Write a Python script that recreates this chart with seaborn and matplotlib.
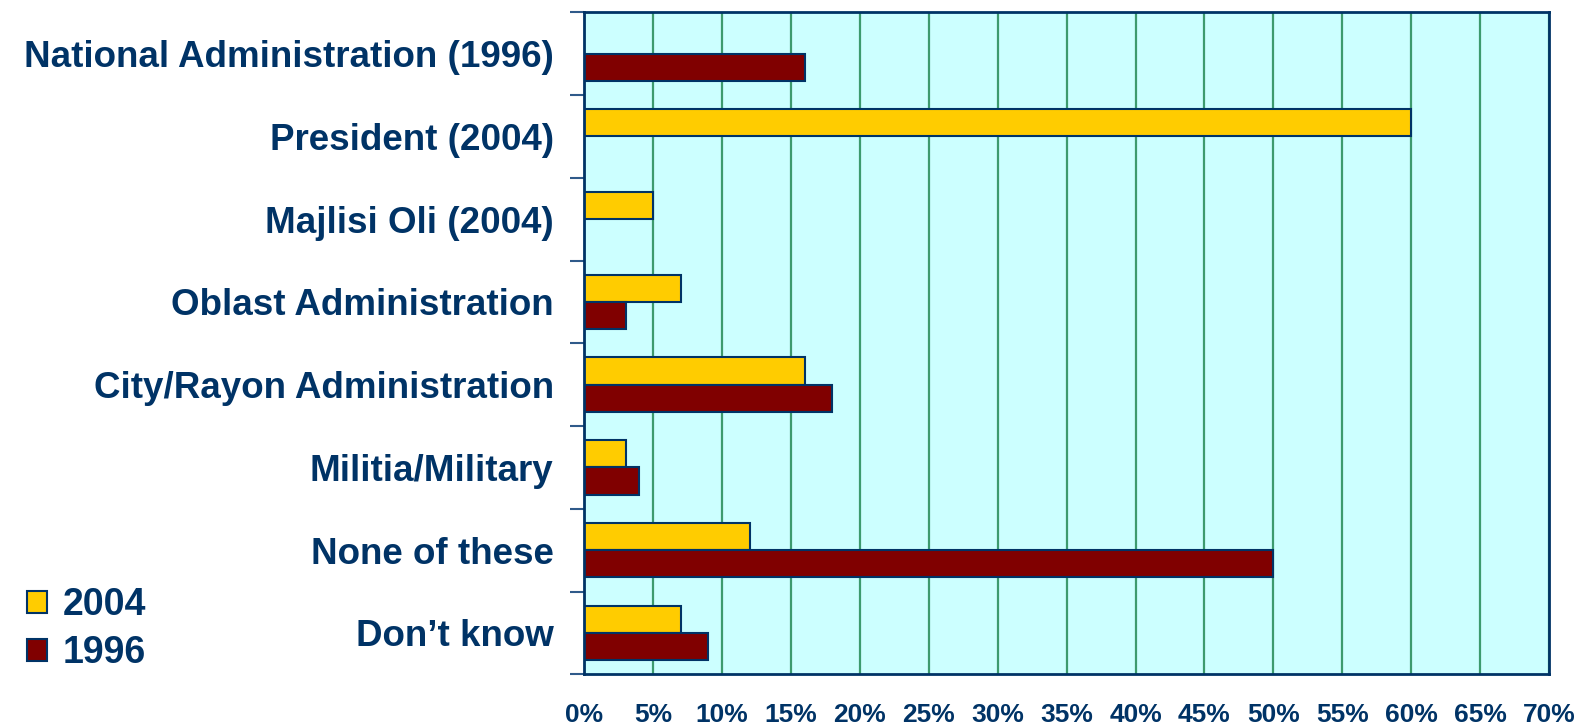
#recreating the trust in institutions bar chart (2004 vs 1996)
import numpy as np
import pandas as pd
import matplotlib
matplotlib.use('Agg')
import matplotlib.pyplot as plt
import seaborn as sns

#data
categories = ['National Administration (1996)', 'President (2004)', 'Majlisi Oli (2004)',
              'Oblast Administration', 'City/Rayon Administration', 'Militia/Military',
              'None of these', 'Don\u2019t know']
values_2004 = [np.nan, 60, 5, 7, 16, 3, 12, 7]
values_1996 = [16, np.nan, np.nan, 3, 18, 4, 50, 9]
years = ['2004', '1996']
x_ticks = list(range(0, 75, 5))

#long format for seaborn
rows = []
for cat, v04, v96 in zip(categories, values_2004, values_1996):
    rows.append({'Category': cat, 'Year': '2004', 'Value': v04})
    rows.append({'Category': cat, 'Year': '1996', 'Value': v96})
df = pd.DataFrame(rows).dropna()

navy = '#003366'
sns.set_style('white')
plt.rcParams['font.family'] = ['Liberation Sans', 'DejaVu Sans']
plt.rcParams['font.weight'] = 'bold'

fig = plt.figure(figsize=(15.79, 7.25), dpi=100)
ax = fig.add_axes([0.370, 0.070, 0.611, 0.913])

sns.barplot(data=df, y='Category', x='Value', hue='Year',
            order=categories, hue_order=years,
            palette={'2004': '#FFCC00', '1996': '#800000'},
            orient='h', width=0.66, edgecolor=navy, linewidth=1.5,
            saturation=1, ax=ax)

ax.set_facecolor('#CCFFFF')
ax.set_xlim(0, 70)
ax.set_ylim(7.5, -0.5)
ax.set_axisbelow(True)
ax.grid(axis='x', color='#3d9a6e', linewidth=1.6)
ax.grid(axis='y', visible=False)

ax.set_xticks(x_ticks)
ax.set_xticklabels([f'{t}%' for t in x_ticks], fontsize=19, color=navy, fontweight='bold')
ax.tick_params(axis='x', length=0, pad=21)

#ticks at the category boundaries, labels in the middle
ax.set_yticks(np.arange(-0.5, 8, 1))
ax.set_yticklabels([])
ax.set_yticks(range(len(categories)), minor=True)
ax.set_yticklabels(categories, minor=True, fontsize=26.5, color=navy, fontweight='bold')
ax.tick_params(axis='y', which='major', length=10, width=1.5, color='#2f5a8a', left=True)
ax.tick_params(axis='y', which='minor', length=0, pad=22)

ax.set_xlabel('')
ax.set_ylabel('')

for side in ['left', 'right', 'top', 'bottom']:
    ax.spines[side].set_visible(True)
    ax.spines[side].set_color(navy)
    ax.spines[side].set_linewidth(2)

#legend in the bottom left corner
handles, labels = ax.get_legend_handles_labels()
ax.legend_.remove()
fig.legend(handles, labels, loc='lower left', bbox_to_anchor=(0.017, 0.074),
           frameon=False, borderpad=0, borderaxespad=0,
           handlelength=0.55, handleheight=0.55, handletextpad=0.4,
           labelspacing=0.32, prop={'size': 27, 'weight': 'bold'}, labelcolor=navy)

fig.savefig('out.png', dpi=100)
